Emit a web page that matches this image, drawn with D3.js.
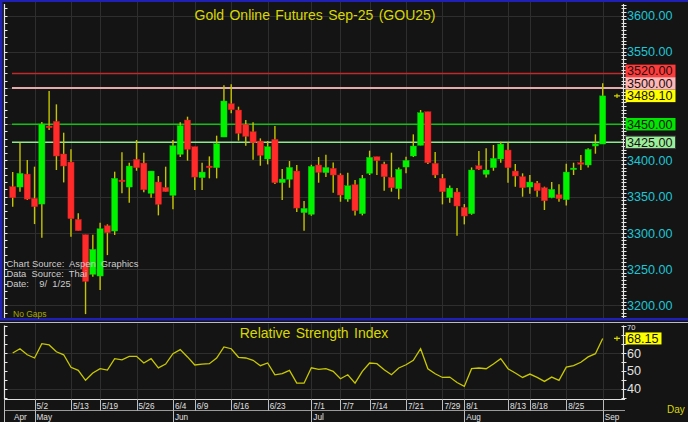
<!DOCTYPE html>
<html><head><meta charset="utf-8">
<script src="https://cdn.jsdelivr.net/npm/d3@7"></script>
<style>
html,body{margin:0;padding:0;background:#141414;overflow:hidden;}
svg{display:block;}
text{font-family:"Liberation Sans",Arial,sans-serif;}
</style></head><body>
<svg id="c" width="688" height="422"></svg>
<script>
// ---------- data ----------
const chartTitle = "Gold Online Futures Sep-25 (GOU25)";
const rsiTitle = "Relative Strength Index";
const openV = [3363.8,3363.3,3381.2,3347.7,3339.8,3447.5,3453.9,3408.9,3397.8,3318.7,
3297.5,3242.8,3240.5,3309.9,3302.6,3372.9,3363.3,3401.5,3396.4,3354.6,
3370.2,3362.8,3351.8,3408.4,3455.8,3419.0,3376.2,3392.3,3390.0,3432.3,
3478.3,3469.6,3449.8,3439.7,3426.8,3402.0,3429.1,3369.3,3373.9,3385.4,
3327.9,3325.6,3393.7,3383.1,3389.1,3379.9,3346.7,3366.5,3326.5,3382.2,
3405.2,3395.0,3376.6,3361.0,3390.9,3406.1,3420.8,3467.3,3396.0,3375.3,
3348.6,3356.4,3335.2,3326.5,3392.7,3380.8,3390.0,3402.0,3414.4,3385.4,
3377.6,3363.3,3368.8,3362.4,3348.6,3352.7,3345.8,3387.7,3396.9,3393.7,
3419.9,3422.6];
const highV = [3384.0,3424.5,3400.6,3391.4,3453.0,3495.8,3477.4,3438.3,3415.3,3327.0,
3297.5,3297.5,3314.1,3311.8,3384.5,3411.2,3396.9,3428.2,3410.7,3385.4,
3378.5,3391.4,3428.2,3452.6,3460.4,3419.0,3396.9,3405.6,3434.2,3503.6,
3505.0,3474.2,3455.8,3452.6,3430.5,3426.8,3447.5,3388.1,3399.2,3393.7,
3344.0,3394.1,3404.7,3407.9,3397.3,3382.2,3383.1,3372.9,3379.9,3413.5,
3405.2,3398.3,3410.7,3390.4,3405.2,3436.0,3469.6,3467.3,3411.6,3381.2,
3365.6,3361.9,3339.8,3390.4,3413.0,3416.7,3421.3,3425.9,3425.0,3395.0,
3382.2,3379.9,3371.6,3363.8,3370.2,3367.0,3395.5,3396.9,3407.5,3416.7,
3436.0,3506.4];
const lowV = [3336.2,3356.9,3345.4,3312.2,3293.4,3442.0,3386.8,3369.7,3294.7,3303.0,
3188.0,3239.5,3221.1,3269.4,3297.1,3354.6,3341.7,3385.8,3356.0,3348.6,
3324.2,3356.9,3332.5,3404.7,3399.7,3359.2,3359.2,3375.3,3375.3,3432.3,
3465.0,3427.3,3420.4,3401.0,3392.7,3394.6,3367.4,3345.4,3362.4,3328.8,
3303.0,3323.7,3369.3,3377.1,3355.5,3343.0,3343.0,3324.2,3324.2,3379.9,
3379.9,3358.2,3356.9,3346.3,3382.2,3404.7,3420.8,3395.0,3375.7,3339.4,
3341.7,3296.1,3311.8,3325.1,3386.8,3376.6,3385.8,3396.9,3369.3,3363.8,
3350.0,3354.1,3350.0,3331.6,3347.7,3343.0,3338.0,3379.9,3386.8,3390.4,
3409.3,3422.6];
const closeV = [3348.6,3382.2,3346.7,3336.2,3450.3,3445.2,3406.1,3392.3,3319.6,3303.0,
3233.1,3277.3,3305.8,3300.3,3375.3,3370.7,3392.3,3390.0,3359.6,3385.4,
3339.4,3356.9,3420.4,3448.0,3415.3,3377.1,3384.0,3390.0,3423.1,3482.0,
3470.0,3437.4,3433.2,3424.5,3407.0,3419.0,3369.3,3374.3,3390.4,3334.3,
3333.9,3391.8,3383.5,3390.4,3379.9,3352.3,3365.1,3330.6,3375.3,3404.3,
3399.7,3377.6,3362.4,3387.7,3400.1,3419.9,3465.9,3396.9,3379.9,3356.9,
3361.9,3337.1,3323.3,3386.8,3388.1,3386.8,3402.9,3422.6,3390.0,3378.5,
3362.4,3370.2,3358.2,3344.4,3360.1,3347.2,3384.0,3389.5,3395.5,3415.3,
3423.1,3489.1];
const rsiV = [60.0,62.4,59.0,57.2,65.2,64.5,60.7,59.0,52.0,50.3,
44.7,48.8,51.2,50.4,56.8,56.2,58.1,58.1,54.4,56.8,
51.7,53.8,59.6,61.9,57.8,53.3,53.8,54.0,57.2,63.4,
62.4,57.6,57.2,55.9,52.9,54.4,47.8,48.4,50.3,43.1,
43.1,51.7,50.8,51.2,49.7,45.6,47.8,43.1,49.7,54.4,
54.0,50.6,47.8,51.6,53.4,55.9,62.4,51.2,48.4,46.3,
46.5,43.5,41.3,51.2,51.6,51.2,53.8,56.8,51.2,48.8,
46.3,48.2,46.3,44.1,46.5,44.7,52.1,52.9,54.8,57.8,
59.6,68.15];
const priceTicks = [3200,3250,3300,3350,3400,3450,3500,3550,3600];
const rsiTicks = [40,50,60,70];
const dateTickIdx = [3,8,12,17,22,25,30,35,41,45,49,54,59,62,68,71,76,81];
const dateTickLabels = ["5/2","5/13","5/19","5/26","6/4","6/9","6/16","6/23","7/1","7/7","7/14","7/21","7/29","8/1","8/13","8/18","8/25",""];
const monthIdx = [0,3,22,41,62,81];
const monthLabels = ["Apr","May","Jun","Jul","Aug","Sep"];
const levelPrices = [3520,3500,3450,3425];
const lastPrice = 3489.10;
const lastRsi = 68.15;
const sourceLines = ["Chart Source:  Aspen  Graphics","Data  Source:  Thai","Date:    9/  1/25"];

// ---------- styles ----------
const BG="#141414", GRID="#2e2e2e", WICK="#c4c400", UP="#00f400", DOWN="#ff2a2a";
const CYAN="#1ec6d6", BLUE="#2020b4";
const levelLine = {3520:["#c02a2a",1.3],3500:["#e2aaaa",2],3450:["#12c012",1.6],3425:["#8ee88e",1.5]};
const boxFill = {3520:"#ff3a3a",3500:"#ffb6b6",3489.1:"#ffff00",3450:"#00e600",3425:"#9af09a"};

// ---------- scales ----------
const x = d3.scaleLinear().domain([0,81]).range([12.7,602.7]);
const y = d3.scaleLinear().domain([3200,3600]).range([305.4,15.5]);
const yr = d3.scaleLinear().domain([40,60]).range([388.7,353]);

const svg = d3.select("#c");
svg.append("rect").attr("width",688).attr("height",422).attr("fill",BG);

const MT=2, MB=318, RT=323.5, RB=399, L=4.5, R=623.5;

// gridlines main
const g = svg.append("g");
g.selectAll(".hg").data(priceTicks).join("line")
  .attr("x1",L).attr("x2",R).attr("y1",d=>Math.round(y(d))+0.5).attr("y2",d=>Math.round(y(d))+0.5)
  .attr("stroke",GRID).attr("stroke-width",1);
g.selectAll(".vg").data(dateTickIdx).join("line")
  .attr("x1",d=>Math.round(x(d))+0.5).attr("x2",d=>Math.round(x(d))+0.5).attr("y1",MT).attr("y2",MB)
  .attr("stroke",GRID).attr("stroke-width",1);
// gridlines rsi
g.append("g").selectAll("line").data([40,60]).join("line")
  .attr("x1",L).attr("x2",R).attr("y1",d=>Math.round(yr(d))+0.5).attr("y2",d=>Math.round(yr(d))+0.5)
  .attr("stroke",GRID);
g.append("g").selectAll("line").data(dateTickIdx).join("line")
  .attr("x1",d=>Math.round(x(d))+0.5).attr("x2",d=>Math.round(x(d))+0.5).attr("y1",RT).attr("y2",RB)
  .attr("stroke",GRID);

// level lines
svg.append("g").selectAll("line").data(levelPrices).join("line")
  .attr("x1",12).attr("x2",R).attr("y1",d=>y(d)).attr("y2",d=>y(d))
  .attr("stroke",d=>levelLine[d][0]).attr("stroke-width",d=>levelLine[d][1]);

// candles
const idx = d3.range(openV.length);
const cg = svg.append("g");
cg.selectAll(".wick").data(idx).join("line")
  .attr("x1",i=>x(i)).attr("x2",i=>x(i)).attr("y1",i=>y(highV[i])).attr("y2",i=>y(lowV[i]))
  .attr("stroke",WICK).attr("stroke-width",1.4);
cg.selectAll(".body").data(idx).join("rect")
  .attr("x",i=>x(i)-3.1).attr("width",6.2)
  .attr("y",i=>y(Math.max(openV[i],closeV[i])))
  .attr("height",i=>Math.max(1.6,Math.abs(y(openV[i])-y(closeV[i]))))
  .attr("fill",i=>closeV[i]>=openV[i]?UP:DOWN)
  .attr("stroke",i=>closeV[i]>=openV[i]?"#00c000":"#c81c1c").attr("stroke-width",0.4);

// rsi line
svg.append("path").datum(idx)
  .attr("d",d3.line().x(i=>x(i)).y(i=>yr(rsiV[i])))
  .attr("fill","none").attr("stroke","#c8c800").attr("stroke-width",1.3);

// borders
svg.append("rect").attr("x",0).attr("y",0).attr("width",688).attr("height",2).attr("fill",BLUE);
svg.append("rect").attr("x",0).attr("y",0).attr("width",2.5).attr("height",320).attr("fill",BLUE);
svg.append("rect").attr("x",0).attr("y",MB).attr("width",688).attr("height",2.6).attr("fill",BLUE);
svg.append("line").attr("x1",0).attr("x2",688).attr("y1",322.5).attr("y2",322.5).attr("stroke","#bcbcbc");

// axes lines + ticks
const ax = svg.append("g").attr("stroke","#e6e6e6");
function vAxis(xp, y0, y1, scale, step, lo, hi, side){
  ax.append("line").attr("x1",xp).attr("x2",xp).attr("y1",y0).attr("y2",y1).attr("stroke-width",1.2);
  const t = d3.range(lo,hi+0.001,step);
  ax.append("g").selectAll("line").data(t).join("line")
    .attr("x1",side==="both"?xp-2:xp).attr("x2",xp+3)
    .attr("y1",d=>Math.round(scale(d))+0.5).attr("y2",d=>Math.round(scale(d))+0.5)
    .attr("stroke-width",1);
}
vAxis(L, MT+2, MB, y, 10, 3190, 3610, "right");
vAxis(R, MT+2, MB, y, 5, 3185, 3615, "both");
vAxis(L, RT+2, RB, yr, 5, 35, 75, "right");
vAxis(R, RT+2, RB, yr, 5, 35, 75, "both");

// level boxes with collision avoidance
const boxes = levelPrices.concat([lastPrice]).sort((a,b)=>a-b).map(p=>({p, cy:y(p)}));
const BH=12.5;
for(let k=1;k<boxes.length;k++){ boxes[k].cy = Math.min(boxes[k].cy, boxes[k-1].cy-BH); }

// right axis labels (those hidden behind a level box are not drawn)
const freeTicks = priceTicks.filter(p=>!boxes.some(b=>Math.abs(b.cy-y(p))<BH));
svg.append("g").selectAll("text").data(freeTicks).join("text")
  .attr("x",627).attr("y",d=>y(d)+4.6).attr("fill",CYAN).attr("font-size",12.6).text(d=>d.toFixed(2));

const bg = svg.append("g");
bg.selectAll("rect").data(boxes).join("rect")
  .attr("x",625.5).attr("width",50).attr("y",d=>d.cy-BH/2).attr("height",BH)
  .attr("fill",d=>boxFill[d.p]).attr("stroke",d=>d.p===3425?"#3a3a3a":"none");
bg.selectAll("text").data(boxes).join("text")
  .attr("x",627).attr("y",d=>d.cy+4.6).attr("fill","#1a1010").attr("font-size",12.6).text(d=>d.p.toFixed(2));

// rsi axis labels; "70" sits just above the last-value box
const boxTop = yr(lastRsi)-6;
svg.append("g").selectAll("text").data(rsiTicks).join("text")
  .attr("x",627).attr("y",d=>d===70?boxTop-2.8:yr(d)+4.6).attr("fill","#e2e2e2")
  .attr("font-size",d=>d===70?7.5:12.6).text(d=>d);

// rsi last box
svg.append("rect").attr("x",625.5).attr("y",boxTop).attr("width",36).attr("height",12)
  .attr("fill","#ffff00");
svg.append("text").attr("x",627).attr("y",yr(lastRsi)+4.6).attr("fill","#111").attr("font-size",12.6).text(lastRsi.toFixed(2));

// last value markers
function marker(yy){
  svg.append("path").attr("d",`M614,${yy}H620M617,${yy-2.2}V${yy+2.2}`)
    .attr("stroke","#d4d400").attr("stroke-width",1.2).attr("fill","none");
}
marker(y(lastPrice)); marker(yr(lastRsi));

// titles
svg.append("text").attr("x",315).attr("y",20).attr("text-anchor","middle").attr("fill","#d8d800")
  .attr("font-size",14).attr("word-spacing",1.5).text(chartTitle);
svg.append("text").attr("x",314).attr("y",337.5).attr("text-anchor","middle").attr("fill","#d8d800")
  .attr("font-size",14).attr("word-spacing",1.5).text(rsiTitle);

// source text
svg.append("g").selectAll("text").data(sourceLines).join("text")
  .attr("x",6.5).attr("y",(d,i)=>267+i*10).attr("fill","#cdcdcd").attr("font-size",9.4)
  .style("white-space","pre").text(d=>d);
svg.append("text").attr("x",13).attr("y",317).attr("fill","#a8a800").attr("font-size",8.5).text("No Gaps");

// bottom date axis
const bx = svg.append("g");
bx.append("line").attr("x1",L).attr("x2",R+1.5).attr("y1",RB+0.5).attr("y2",RB+0.5).attr("stroke","#e0e0e0").attr("stroke-width",1.2);
bx.append("line").attr("x1",L).attr("x2",R+1.5).attr("y1",410.5).attr("y2",410.5).attr("stroke","#9a9a9a");
bx.append("line").attr("x1",L).attr("x2",L).attr("y1",RB).attr("y2",422).attr("stroke","#bdbdbd");
bx.selectAll(".dt").data(dateTickIdx).join("line")
  .attr("x1",d=>Math.round(x(d))+0.5).attr("x2",d=>Math.round(x(d))+0.5).attr("y1",RB).attr("y2",410.5)
  .attr("stroke","#bdbdbd");
bx.selectAll(".dl").data(dateTickIdx).join("text")
  .attr("x",d=>x(d)+2).attr("y",408.5).attr("fill","#e0e0e0").attr("font-size",8.2)
  .text((d,i)=>dateTickLabels[i]);
bx.selectAll(".mt").data(monthIdx.slice(1)).join("line")
  .attr("x1",d=>Math.round(x(d))+0.5).attr("x2",d=>Math.round(x(d))+0.5).attr("y1",410.5).attr("y2",422)
  .attr("stroke","#bdbdbd");
bx.selectAll(".ml").data(monthIdx).join("text")
  .attr("x",(d,i)=>i===0?14:x(d)+2).attr("y",419.5).attr("fill","#e0e0e0").attr("font-size",8.2)
  .text((d,i)=>monthLabels[i]);
svg.append("text").attr("x",667).attr("y",413).attr("fill","#d8d800").attr("font-size",10).text("Day");
</script>
</body></html>
